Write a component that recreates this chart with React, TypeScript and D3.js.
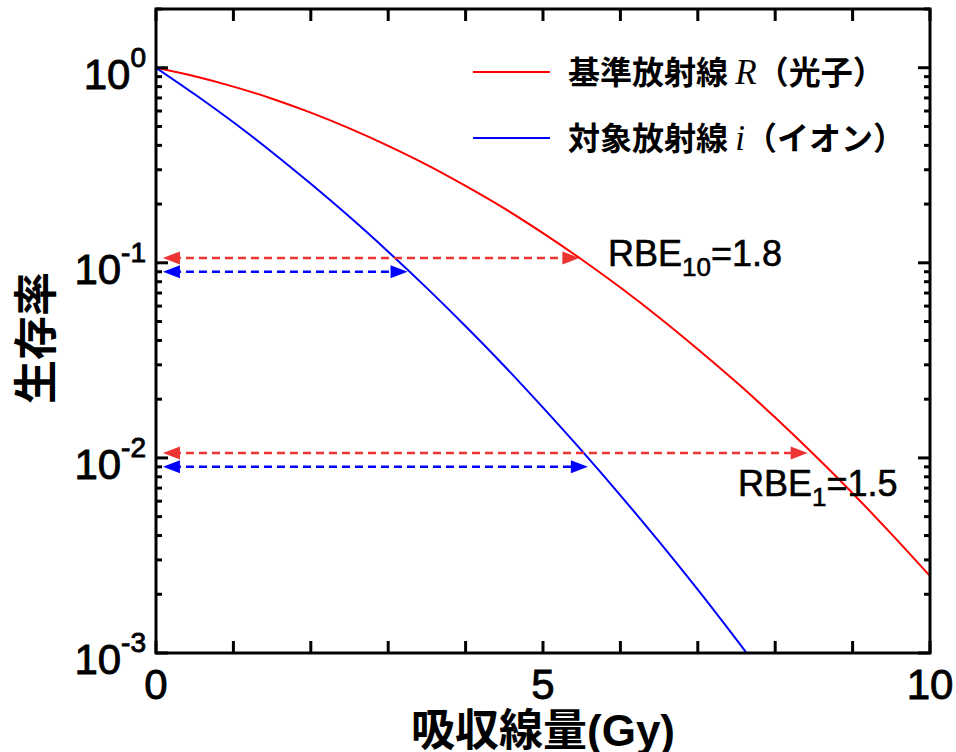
import * as d3 from "d3";

// dose (Gy) sampled along both curves
const doses = [0, 0.5, 1, 1.5, 2, 2.5, 3, 3.5, 4, 4.5, 5, 5.5, 6, 6.5, 7, 7.5, 8, 8.5, 9, 9.5, 10];
// reference radiation R (photons)
const photonSurvival = [1, 0.904, 0.8, 0.694, 0.589, 0.489, 0.398, 0.318, 0.248, 0.19, 0.142, 0.104, 0.0747, 0.0525, 0.0361, 0.0244, 0.0161, 0.0104, 0.00659, 0.00408, 0.00248];
// target radiation i (ions)
const ionSurvival = [1, 0.731, 0.525, 0.369, 0.254, 0.172, 0.114, 0.0742, 0.0473, 0.0296, 0.0181, 0.0109, 0.00643, 0.00372, 0.00211, 0.00117, 0.00064];

// dashed double arrows: survival level, dose where it ends, colour
const arrowLevels = [0.106, 0.09, 0.0106, 0.009];
const arrowEnds = [5.47, 3.25, 8.42, 5.58];
const arrowColors = ["#ee3333", "#0000ff", "#ee3333", "#0000ff"];

const yTickExps = [0, -1, -2, -3];
const xTickLabels = [0, 5, 10];

const W = 956;
const H = 752;
const left = 156;
const right = 930;
const top = 9;
const bottom = 653;

const sansFont = "'Liberation Sans', Arial, sans-serif";
const cjkFont = "'Noto Sans CJK JP', 'Liberation Sans', sans-serif";
const serifFont = "'Liberation Serif', 'Times New Roman', serif";

export default function App() {
  const x = d3.scaleLinear().domain([0, 10]).range([left, right]);
  const y = d3.scaleLog().domain([1e-3, 2]).range([bottom, top]);

  const line = d3
    .line<[number, number]>()
    .x((d) => x(d[0]))
    .y((d) => y(d[1]))
    .curve(d3.curveMonotoneX);

  const photonPts = doses.map((d, i) => [d, photonSurvival[i]] as [number, number]);
  const ionPts = ionSurvival.map((s, i) => [doses[i], s] as [number, number]);

  const minorY: number[] = [];
  for (let e = -3; e <= 0; e++) {
    for (let m = 2; m <= 9; m++) {
      const v = m * Math.pow(10, e);
      if (v < 2.0001) minorY.push(v);
    }
  }
  const majorY = yTickExps.map((e) => Math.pow(10, e));
  const xTicks = d3.range(0, 11, 1);

  const arrowHead = (tipX: number, yy: number, dir: number, color: string, key: string) => {
    const len = 17;
    const half = 6.5;
    const bx = tipX - dir * len;
    return (
      <path
        key={key}
        d={`M${tipX},${yy} L${bx},${yy - half} L${bx},${yy + half} Z`}
        fill={color}
      />
    );
  };

  return (
    <svg
      width={W}
      height={H}
      viewBox={`0 0 ${W} ${H}`}
      style={{ position: "absolute", left: 0, top: 0, background: "#fff" }}
    >
      <defs>
        <clipPath id="plot">
          <rect x={left} y={top} width={right - left} height={bottom - top} />
        </clipPath>
      </defs>

      {/* curves */}
      <g clipPath="url(#plot)" fill="none" strokeWidth={2}>
        <path d={line(photonPts) || ""} stroke="#ff0000" />
        <path d={line(ionPts) || ""} stroke="#0000ff" />
      </g>

      {/* RBE arrows */}
      <g>
        {arrowLevels.map((s, i) => {
          const yy = y(s);
          const x0 = x(0.09);
          const x1 = x(arrowEnds[i]);
          return (
            <g key={i}>
              <line
                x1={x0 + 10}
                x2={x1 - 10}
                y1={yy}
                y2={yy}
                stroke={arrowColors[i]}
                strokeWidth={2.5}
                strokeDasharray="8,5"
              />
              {arrowHead(x0, yy, -1, arrowColors[i], "l")}
              {arrowHead(x1, yy, 1, arrowColors[i], "r")}
            </g>
          );
        })}
      </g>

      {/* frame and ticks */}
      <g stroke="#000" strokeWidth={3} fill="none">
        <rect x={left} y={top} width={right - left} height={bottom - top} />
        {xTicks.map((t) => (
          <g key={`xt${t}`}>
            <line x1={x(t)} x2={x(t)} y1={bottom} y2={bottom - 12} />
            <line x1={x(t)} x2={x(t)} y1={top} y2={top + 12} />
          </g>
        ))}
        {majorY.map((v) => (
          <g key={`ym${v}`}>
            <line x1={left} x2={left + 12} y1={y(v)} y2={y(v)} />
            <line x1={right} x2={right - 12} y1={y(v)} y2={y(v)} />
          </g>
        ))}
        {minorY.map((v) => (
          <g key={`yn${v}`}>
            <line x1={left} x2={left + 6} y1={y(v)} y2={y(v)} />
            <line x1={right} x2={right - 6} y1={y(v)} y2={y(v)} />
          </g>
        ))}
      </g>

      {/* tick labels */}
      <g fontFamily={sansFont} fill="#000" stroke="#000" strokeWidth={0.9}>
        {yTickExps.map((e) => (
          <text key={e} x={146} y={y(Math.pow(10, e)) + 21} textAnchor="end" fontSize={42}>
            10
            <tspan fontSize={28} dy={-22}>
              {e === 0 ? "0" : `-${-e}`}
            </tspan>
          </text>
        ))}
        {xTickLabels.map((t) => (
          <text key={t} x={x(t)} y={699} textAnchor="middle" fontSize={42}>
            {t}
          </text>
        ))}
      </g>

      {/* axis titles */}
      <text
        x={543}
        y={746}
        textAnchor="middle"
        fontFamily={cjkFont}
        fontWeight="bold"
        fontSize={44}
      >
        吸収線量<tspan fontFamily={sansFont}>(Gy)</tspan>
      </text>
      <text
        transform="translate(33,338) rotate(-90)"
        textAnchor="middle"
        dominantBaseline="central"
        fontFamily={cjkFont}
        fontWeight="bold"
        fontSize={44}
      >
        生存率
      </text>

      {/* legend */}
      <g>
        <line x1={473} x2={550} y1={72} y2={72} stroke="#ff0000" strokeWidth={2} />
        <text x={568} y={84} fontFamily={cjkFont} fontWeight="bold" fontSize={32}>
          基準放射線 <tspan fontFamily={serifFont} fontStyle="italic" fontWeight="normal" fontSize={35}>R</tspan>（光子）
        </text>
        <line x1={473} x2={550} y1={138} y2={138} stroke="#0000ff" strokeWidth={2} />
        <text x={568} y={150} fontFamily={cjkFont} fontWeight="bold" fontSize={32}>
          対象放射線 <tspan fontFamily={serifFont} fontStyle="italic" fontWeight="normal" fontSize={35}>i</tspan>（イオン）
        </text>
      </g>

      {/* RBE labels */}
      <g fontFamily={sansFont} fontSize={36} fill="#000" stroke="#000" strokeWidth={0.6}>
        <text x={608} y={266}>
          RBE<tspan fontSize={26} dy={10}>10</tspan>
          <tspan dy={-10}>=1.8</tspan>
        </text>
        <text x={738} y={496}>
          RBE<tspan fontSize={26} dy={10}>1</tspan>
          <tspan dy={-10}>=1.5</tspan>
        </text>
      </g>
    </svg>
  );
}
